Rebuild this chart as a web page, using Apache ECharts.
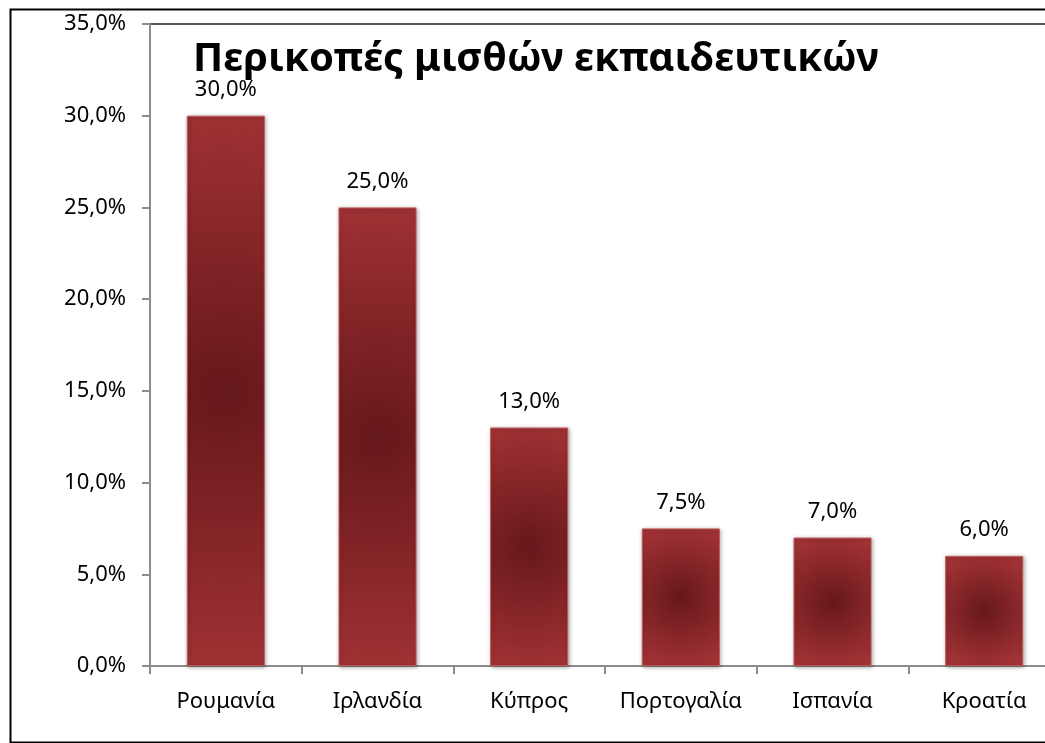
<!DOCTYPE html>
<html>
<head>
<meta charset="utf-8">
<script src="https://cdn.jsdelivr.net/npm/echarts@6/dist/echarts.min.js"></script>
<style>
html,body{margin:0;padding:0;background:#fff;}
#chart{width:1045px;height:743px;}
</style>
</head>
<body>
<div id="chart"></div>
<script>
const titleText = 'Περικοπές μισθών εκπαιδευτικών';
const categories = ['Ρουμανία', 'Ιρλανδία', 'Κύπρος', 'Πορτογαλία', 'Ισπανία', 'Κροατία'];
const values = [30.0, 25.0, 13.0, 7.5, 7.0, 6.0];
const yMin = 0, yMax = 35, yStep = 5;

const FONT = '"Noto Sans", "Open Sans", sans-serif';
const plotH = 642, barW = 78;

function barStyle(v) {
  const h = Math.max(barW, v / yMax * plotH);
  const r = 0.6 * h / barW;
  return {
    color: {
      type: 'radial', x: 0.5, y: 0.5, r: r,
      colorStops: [
        { offset: 0, color: '#66181a' },
        { offset: 0.55, color: '#8c282b' },
        { offset: 1, color: '#a9373a' }
      ]
    },
    borderColor: '#c25556',
    borderWidth: 1,
    shadowColor: 'rgba(0,0,0,0.35)',
    shadowBlur: 4,
    shadowOffsetX: 1,
    shadowOffsetY: 1
  };
}

const chart = echarts.init(document.getElementById('chart'), null, { renderer: 'canvas' });
chart.setOption({
  animation: false,
  backgroundColor: '#fff',
  grid: {
    left: 150, top: 24, height: 642, width: 910,
    outerBoundsMode: 'none', containLabel: false,
    show: true, borderColor: '#222', borderWidth: 1.5, backgroundColor: 'transparent'
  },
  graphic: [
    {
      type: 'rect', left: 8, top: 7, z: 100, silent: true,
      shape: { x: 0, y: 0, width: 1100, height: 733 },
      style: { fill: 'none', stroke: '#000', lineWidth: 2 }
    },
    {
      type: 'text', left: 193, top: 40, z: 100,
      style: { text: titleText, font: 'bold 40px ' + FONT, fill: '#000' }
    }
  ],
  xAxis: {
    type: 'category',
    data: categories,
    boundaryGap: true,
    axisLine: { show: true, lineStyle: { color: '#8c8c8c', width: 2 } },
    axisTick: { show: true, interval: 0, length: 8, lineStyle: { color: '#8c8c8c', width: 2 } },
    axisLabel: { interval: 0, color: '#000', fontSize: 22, fontFamily: FONT, margin: 25 },
    splitLine: { show: false }
  },
  yAxis: {
    type: 'value',
    min: yMin, max: yMax, interval: yStep,
    axisLine: { show: true, lineStyle: { color: '#8c8c8c', width: 2 } },
    axisTick: { show: true, length: 8, inside: false, lineStyle: { color: '#8c8c8c', width: 2 } },
    axisLabel: {
      color: '#000', fontSize: 22, fontFamily: FONT, margin: 24,
      formatter: v => v.toFixed(1).replace('.', ',') + '%'
    },
    splitLine: { show: false }
  },
  series: [{
    type: 'bar',
    barWidth: barW,
    data: values.map(v => ({ value: v, itemStyle: barStyle(v) })),
    label: {
      show: true, position: 'top', distance: 15,
      color: '#000', fontSize: 22, fontFamily: FONT,
      formatter: p => p.value.toFixed(1).replace('.', ',') + '%'
    }
  }]
});
</script>
</body>
</html>
